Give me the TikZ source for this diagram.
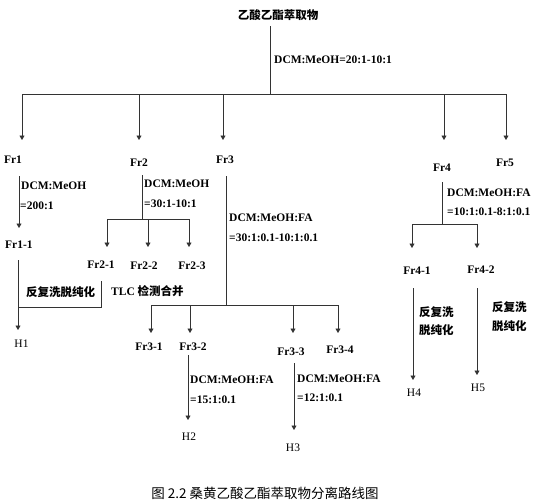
\documentclass[tikz,border=0pt]{standalone}
\usepackage{fontspec}
\setmainfont{Liberation Serif}
\newfontfamily\cjk{Noto Sans CJK SC}
\usetikzlibrary{arrows.meta}
\usetikzlibrary{positioning}

\begin{document}
\begin{tikzpicture}[x=1pt, y=-1pt,
    every node/.style={font=\fontsize{11.5}{13}\selectfont\bfseries, inner sep=0pt},
    ln/.style={draw=black!80, line width=0.7pt},
    arr/.style={ln, -{Triangle[width=5pt,length=4.5pt]}},
    hnode/.style={font=\fontsize{11.5}{13}\selectfont},
    zh/.style={font=\fontsize{11.5}{13}\selectfont\cjk\bfseries}]
    \useasboundingbox (0,0) rectangle (539,504);

    \node[zh] (top) at (278,15) {乙酸乙酯萃取物};
    \node[anchor=west] (c0) at (274,60) {DCM:MeOH=20:1-10:1};
    \coordinate (b0) at (270,94);
    \draw[ln] (270,26) coordinate (t0) -- (b0);

    \coordinate (d1) at (22,94);  \coordinate (e1) at (22,140);
    \coordinate (d2) at (139,94); \coordinate (e2) at (139,140);
    \coordinate (d3) at (223,94); \coordinate (e3) at (223,140);
    \coordinate (d4) at (444,94); \coordinate (e4) at (444,140);
    \coordinate (d5) at (506,94); \coordinate (e5) at (506,140);
    \draw[ln] (d1) -- (d5);
    \foreach \i in {1,...,5} \draw[arr] (d\i) -- (e\i);

    \node (fr1) at (13,160) {Fr1};
    \node (fr2) at (139,163) {Fr2};
    \node (fr3) at (225,160) {Fr3};
    \node (fr4) at (442,168) {Fr4};
    \node (fr5) at (505,163) {Fr5};

    % Fr1
    \coordinate (p1) at (19,176); \coordinate (q1) at (19,228);
    \draw[arr] (p1) -- (q1);
    \node[anchor=west] (c1a) at (21,186) {DCM:MeOH};
    \node[anchor=west] (c1b) at (20,206) {=200:1};
    \node[anchor=west] (fr11) at (5,245) {Fr1-1};
    \coordinate (p11) at (18,260); \coordinate (h1t) at (18,330);
    \coordinate (m1) at (18,307); \coordinate (m2) at (101,307); \coordinate (m3) at (101,281);
    \draw[arr] (p11) -- (h1t);
    \draw[ln] (m3) -- (m2) -- (m1);
    \node[zh, anchor=west] (w1) at (26,292) {反复洗脱纯化};
    \node[hnode] (h1) at (21.5,344) {H1};

    % Fr2
    \coordinate (p2) at (142,175); \coordinate (b2) at (142,219);
    \draw[ln] (p2) -- (b2);
    \node[anchor=west] (c2a) at (144,184) {DCM:MeOH};
    \node[anchor=west] (c2b) at (144,204) {=30:1-10:1};
    \coordinate (f21) at (107,219); \coordinate (g21) at (107,247);
    \coordinate (f22) at (148,219); \coordinate (g22) at (148,247);
    \coordinate (f23) at (189,219); \coordinate (g23) at (189,247);
    \draw[ln] (f21) -- (f23);
    \foreach \i in {21,22,23} \draw[arr] (f\i) -- (g\i);
    \node (fr21) at (101,265) {Fr2-1};
    \node (fr22) at (144,266) {Fr2-2};
    \node (fr23) at (192,266) {Fr2-3};
    \node[anchor=west] (tlc) at (111,291) {TLC {\cjk 检测合并}};

    % Fr3
    \coordinate (p3) at (226,176); \coordinate (b3) at (226,305);
    \draw[ln] (p3) -- (b3);
    \node[anchor=west] (c3a) at (229,218) {DCM:MeOH:FA};
    \node[anchor=west] (c3b) at (229,238) {=30:1:0.1-10:1:0.1};
    \coordinate (f31) at (151,305); \coordinate (g31) at (151,333);
    \coordinate (f32) at (190,305); \coordinate (g32) at (190,333);
    \coordinate (f33) at (293,305); \coordinate (g33) at (293,333);
    \coordinate (f34) at (338,305); \coordinate (g34) at (338,333);
    \draw[ln] (f31) -- (f34);
    \foreach \i in {31,32,33,34} \draw[arr] (f\i) -- (g\i);
    \node (fr31) at (149,347) {Fr3-1};
    \node (fr32) at (193,347) {Fr3-2};
    \node (fr33) at (291,352) {Fr3-3};
    \node (fr34) at (340,350) {Fr3-4};

    \coordinate (p32) at (188,355); \coordinate (h2t) at (188,420);
    \draw[arr] (p32) -- (h2t);
    \node[anchor=west] (c32a) at (190,380) {DCM:MeOH:FA};
    \node[anchor=west] (c32b) at (190,400) {=15:1:0.1};
    \node[hnode] (h2) at (189,437) {H2};

    \coordinate (p33) at (294,363); \coordinate (h3t) at (294,430);
    \draw[arr] (p33) -- (h3t);
    \node[anchor=west] (c33a) at (297,379) {DCM:MeOH:FA};
    \node[anchor=west] (c33b) at (297,398) {=12:1:0.1};
    \node[hnode] (h3) at (293,448) {H3};

    % Fr4
    \coordinate (p4) at (442,182); \coordinate (b4) at (442,224);
    \draw[ln] (p4) -- (b4);
    \node[anchor=west] (c4a) at (447,193) {DCM:MeOH:FA};
    \node[anchor=west] (c4b) at (447,212) {=10:1:0.1-8:1:0.1};
    \coordinate (f41) at (412,224); \coordinate (g41) at (412,248);
    \coordinate (f42) at (477,224); \coordinate (g42) at (477,248);
    \draw[ln] (f41) -- (f42);
    \foreach \i in {41,42} \draw[arr] (f\i) -- (g\i);
    \node (fr41) at (417,271) {Fr4-1};
    \node (fr42) at (481,270) {Fr4-2};

    \coordinate (p41) at (413,288); \coordinate (h4t) at (413,380);
    \draw[arr] (p41) -- (h4t);
    \node[zh, anchor=west] (w4a) at (419,312) {反复洗};
    \node[zh, anchor=west] (w4b) at (419,330) {脱纯化};
    \node[hnode] (h4) at (414,393) {H4};

    \coordinate (p42) at (477,288); \coordinate (h5t) at (477,375);
    \draw[arr] (p42) -- (h5t);
    \node[zh, anchor=west] (w5a) at (492,307) {反复洗};
    \node[zh, anchor=west] (w5b) at (492,326) {脱纯化};
    \node[hnode] (h5) at (478,388) {H5};

    \node[font=\fontsize{13.5}{15}\selectfont\cjk] (cap) at (265,493) {图 2.2 桑黄乙酸乙酯萃取物分离路线图};
\end{tikzpicture}
\end{document}
